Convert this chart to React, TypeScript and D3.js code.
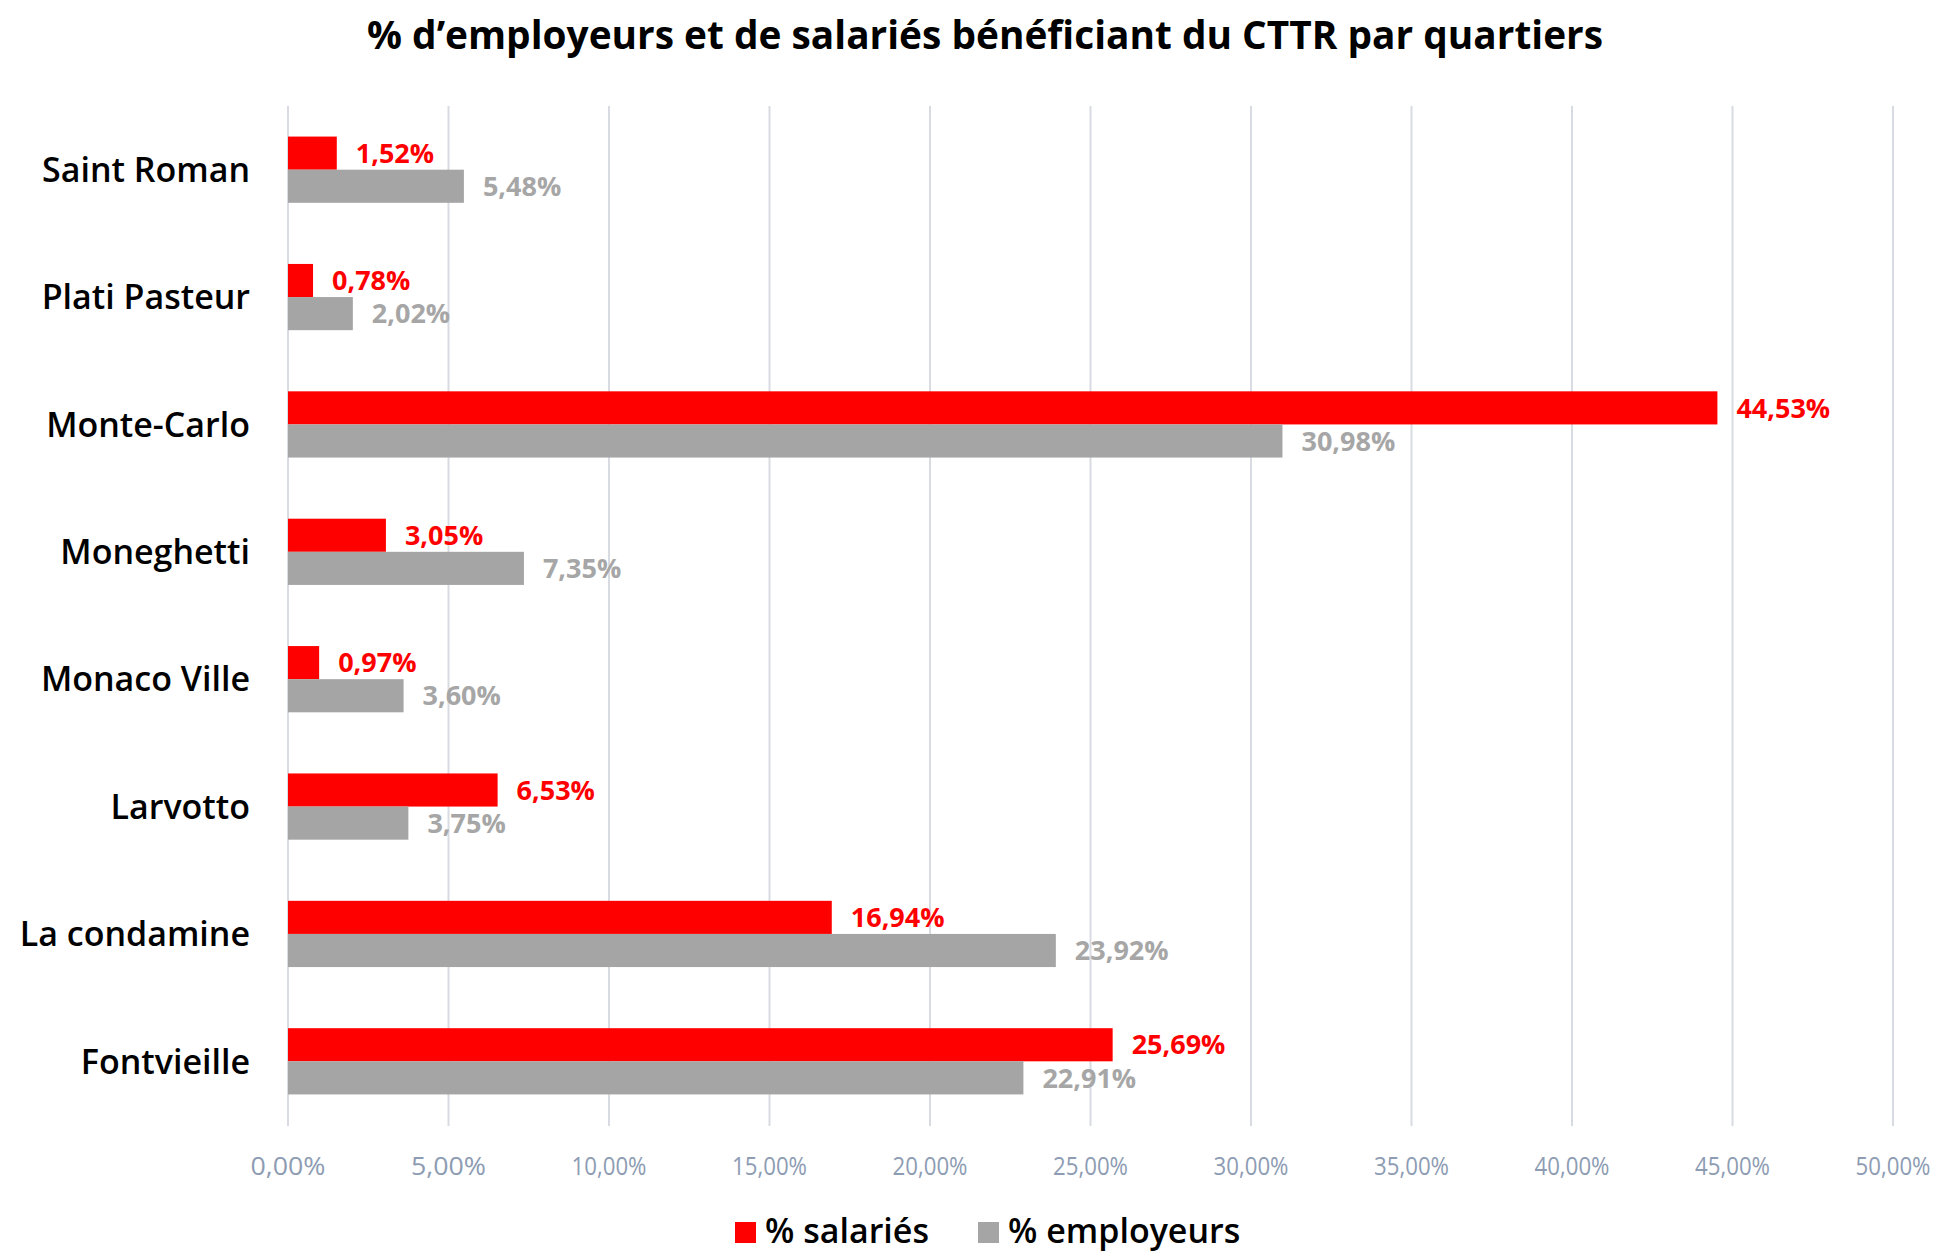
import * as d3 from "d3";
import React, { useEffect } from "react";

// quartiers, du haut vers le bas
const quartiers = [
  "Saint Roman",
  "Plati Pasteur",
  "Monte-Carlo",
  "Moneghetti",
  "Monaco Ville",
  "Larvotto",
  "La condamine",
  "Fontvieille",
];
const salaries = [1.52, 0.78, 44.53, 3.05, 0.97, 6.53, 16.94, 25.69];
const employeurs = [5.48, 2.02, 30.98, 7.35, 3.6, 3.75, 23.92, 22.91];
const xTicks = [0, 5, 10, 15, 20, 25, 30, 35, 40, 45, 50];
const seriesNames = ["% salariés", "% employeurs"];
const seriesColors = ["#ff0000", "#a5a5a5"];
const labelColors = ["#ff0000", "#a6a6a6"];

const fr = (v: number) => v.toFixed(2).replace(".", ",") + "%";

export default function App() {
  useEffect(() => {
    document.body.style.margin = "0";
  }, []);

  const width = 1949;
  const height = 1255;
  const font = "'Open Sans', sans-serif";

  //scales
  const x = d3.scaleLinear().domain([0, 50]).range([288, 1893]);
  const y = d3
    .scaleBand()
    .domain(quartiers)
    .range([106, 1125])
    .paddingInner(0.48)
    .paddingOuter(0.24);
  const sub = d3
    .scaleBand()
    .domain(["s", "e"])
    .range([0, y.bandwidth()]);

  return (
    <svg width={width} height={height} style={{ display: "block", background: "#fff" }}>
      {/* title */}
      <text
        x={985}
        y={49}
        textAnchor="middle"
        fontFamily={font}
        fontWeight="bold"
        fontSize={39}
        textLength={1236}
        lengthAdjust="spacingAndGlyphs"
        fill="#000"
      >
        % d’employeurs et de salariés bénéficiant du CTTR par quartiers
      </text>

      {/* gridlines */}
      {xTicks.map((t) => (
        <line
          key={t}
          x1={x(t)}
          x2={x(t)}
          y1={106}
          y2={1126}
          stroke="#d9dbe3"
          strokeWidth={2}
        />
      ))}

      {/* tick labels */}
      {xTicks.map((t) => (
        <text
          key={"l" + t}
          x={x(t)}
          y={1175}
          textAnchor="middle"
          fontFamily={font}
          fontSize={25}
          fill="#8d9cb3"
          textLength={75}
          lengthAdjust="spacingAndGlyphs"
        >
          {fr(t)}
        </text>
      ))}

      {/* bars */}
      {quartiers.map((q, i) => {
        const y0 = y(q)!;
        const vals = [salaries[i], employeurs[i]];
        return (
          <g key={q}>
            <text
              x={250}
              y={y0 + y.bandwidth() / 2}
              dy="0.36em"
              textAnchor="end"
              fontFamily={font}
              fontWeight={600}
              fontSize={34}
              fill="#000"
            >
              {q}
            </text>
            {vals.map((v, j) => {
              const by = y0 + sub(j === 0 ? "s" : "e")!;
              return (
                <g key={j}>
                  <rect
                    x={x(0)}
                    y={by}
                    width={x(v) - x(0)}
                    height={sub.bandwidth()}
                    fill={seriesColors[j]}
                  />
                  <text
                    x={x(v) + 19}
                    y={by + sub.bandwidth() / 2}
                    dy="0.36em"
                    fontFamily={font}
                    fontWeight="bold"
                    fontSize={27}
                    fill={labelColors[j]}
                  >
                    {fr(v)}
                  </text>
                </g>
              );
            })}
          </g>
        );
      })}

      {/* legend */}
      {seriesNames.map((s, j) => {
        const lx = j === 0 ? 735 : 978;
        return (
          <g key={s}>
            <rect x={lx} y={1222} width={21} height={21} fill={seriesColors[j]} />
            <text
              x={lx + 30}
              y={1231}
              dy="0.36em"
              fontFamily={font}
              fontWeight={600}
              fontSize={34}
              fill="#000"
            >
              {s}
            </text>
          </g>
        );
      })}
    </svg>
  );
}
